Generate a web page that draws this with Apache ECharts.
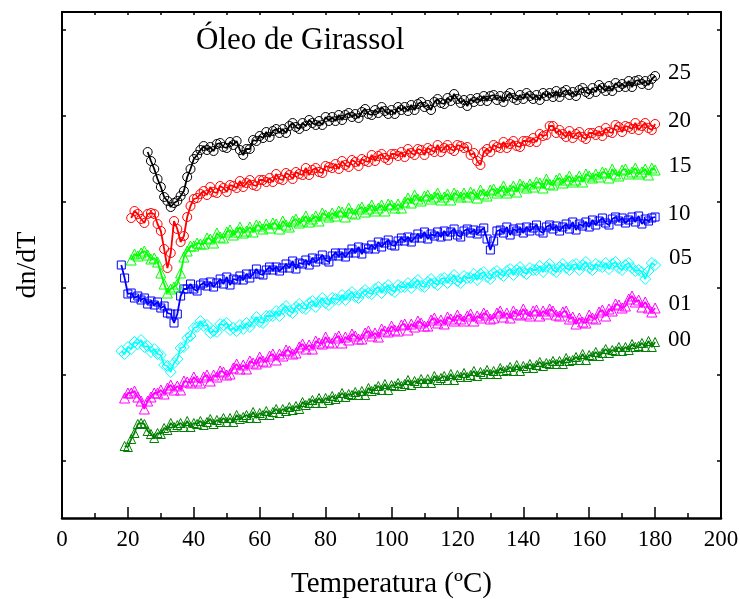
<!DOCTYPE html>
<html><head><meta charset="utf-8">
<script src="https://cdn.jsdelivr.net/npm/echarts@6/dist/echarts.min.js"></script>
<style>html,body{margin:0;padding:0;background:#fff}#c{width:740px;height:599px}</style>
</head><body><div id="c"></div>
<script>
// Temperature grid (ºC); each series ends at 180 and starts where its array begins
const temperature = [18,19,20,21,22,23,24,25,26,27,28,29,30,31,32,33,34,35,36,37,38,39,40,41,42,43,44,45,46,47,48,49,50,51,52,53,54,55,56,57,58,59,60,61,62,63,64,65,66,67,68,69,70,71,72,73,74,75,76,77,78,79,80,81,82,83,84,85,86,87,88,89,90,91,92,93,94,95,96,97,98,99,100,101,102,103,104,105,106,107,108,109,110,111,112,113,114,115,116,117,118,119,120,121,122,123,124,125,126,127,128,129,130,131,132,133,134,135,136,137,138,139,140,141,142,143,144,145,146,147,148,149,150,151,152,153,154,155,156,157,158,159,160,161,162,163,164,165,166,167,168,169,170,171,172,173,174,175,176,177,178,179,180];

// dn/dT (arbitrary units, curves offset vertically)
const s25 = [366,357,349,339,331,321,317,311,315,317,322,327,341,349,359,363,368,
372,368,371,367,374,375,371,370,376,373,377,368,363,369,369,378,377,382,380,386,
381,387,389,385,389,385,392,395,391,389,395,392,398,395,393,397,393,401,397,401,
397,403,398,403,405,401,404,400,406,409,404,403,408,405,411,407,404,408,404,411,
408,411,407,413,408,414,416,411,413,408,416,419,415,414,420,417,424,419,415,418,
412,419,416,420,417,422,417,422,423,418,422,416,422,425,420,418,423,419,425,422,
419,423,418,425,422,425,421,427,421,426,428,423,426,422,428,430,426,424,430,426,
433,430,427,432,427,435,431,434,431,437,431,437,438,434,437,433,439,442];

const s20 = [300,307,304,299,295,304,305,304,294,287,269,250,265,297,289,276,282,301,312,319,320,324,
327,323,331,326,325,332,330,326,333,332,330,337,331,335,338,333,332,338,338,336,
340,336,344,339,338,345,343,339,346,344,343,350,343,348,350,346,345,352,351,350,
354,349,357,353,351,358,356,352,359,357,356,363,357,362,364,360,358,364,364,362,
366,361,369,365,363,369,368,363,370,368,366,373,366,370,373,369,367,373,372,370,
371,363,365,357,353,366,369,366,373,371,370,376,370,374,377,372,371,377,377,376,
380,376,384,382,383,392,392,385,388,384,381,387,380,384,386,381,379,385,385,383,
387,382,390,386,385,393,391,386,392,391,389,395,388,392,395,390,388,394];

const s15 = [258,264,262,265,267,263,259,260,256,245,234,225,229,231,234,245,261,267,272,272,275,274,
274,280,279,275,285,281,280,286,288,283,286,291,285,287,291,286,293,292,289,294,
290,295,294,289,297,293,291,297,299,295,297,302,296,299,302,297,305,303,301,305,
302,307,306,301,310,305,304,309,311,306,309,313,307,310,313,307,314,313,310,314,
310,316,320,315,323,319,317,322,323,319,321,325,318,321,324,318,325,323,321,325,
321,326,324,320,328,324,322,328,329,325,327,332,325,328,332,326,334,332,330,334,
331,336,335,330,339,334,333,338,340,335,338,342,336,338,342,336,344,342,340,344,
341,346,345,340,349,344,342,348,349,344,346,350,344,346,349,343,350,348];

const s10 = [253,240,224,225,220,222,218,220,214,217,213,216,210,212,205,204,195,204,222,229,229,
234,229,227,233,235,232,236,231,235,239,234,241,233,239,238,242,238,244,240,244,
249,244,243,248,251,248,251,247,250,254,250,257,249,255,254,258,253,260,256,259,
263,258,256,262,265,262,265,261,265,269,265,271,264,270,269,273,269,276,271,275,
278,273,272,277,280,277,281,276,280,284,280,286,279,284,282,286,281,287,282,286,
289,283,281,287,289,285,288,284,287,290,279,268,277,287,288,285,291,283,289,287,
290,285,291,287,290,293,287,285,291,293,289,292,287,291,294,289,296,288,294,292,
296,291,298,293,297,300,295,293,299,301,297,300,295,298,301,296,302,294,299,297,300,301];

const s05 = [167,164,171,169,176,174,178,171,172,166,169,164,163,153,152,146,155,159,170,171,180,182,190,191,197,192,193,185,187,186,194,193,195,188,190,187,193,189,
195,191,196,201,196,195,202,202,202,207,202,209,212,207,205,211,214,210,209,215,
217,211,216,220,215,213,220,219,218,223,218,223,226,221,220,225,228,225,224,229,
231,225,230,233,228,226,233,231,231,235,230,235,238,232,231,236,239,235,233,239,
240,235,239,243,237,235,242,240,240,244,238,244,246,241,239,245,247,244,242,247,
249,243,248,251,246,244,250,248,248,252,246,251,254,248,246,251,254,250,248,253,
254,248,253,256,250,248,254,252,251,255,249,254,256,250,248,253,255,250,247,248,246,239,247,255,253];

const s01 = [120,125,125,127,121,117,109,117,121,125,125,128,
124,130,133,128,132,128,137,136,135,141,137,135,141,143,137,143,141,147,146,143,
144,150,154,149,153,149,157,155,154,161,157,156,162,164,158,164,162,168,167,164,
165,171,174,169,173,169,177,175,174,181,176,175,180,182,175,181,178,184,182,179,
179,185,187,182,185,181,189,187,186,192,188,187,193,194,188,194,191,197,195,192,
192,198,200,195,198,194,201,199,197,203,199,197,202,204,197,202,200,205,203,199,
200,205,207,201,205,200,207,204,203,209,204,202,207,208,202,207,204,209,207,203,
202,206,207,199,201,194,200,196,195,203,200,199,206,208,202,209,207,214,213,210,
212,219,222,216,218,211,216,210,206,210];

const s00 = [72,71,79,85,94,95,94,87,84,80,
85,84,90,88,95,91,93,95,91,97,91,95,94,97,93,96,99,94,98,96,
100,96,100,96,103,99,101,103,100,106,100,105,103,107,103,106,109,105,109,107,
111,108,112,109,116,113,115,118,115,120,115,120,118,122,119,121,125,121,124,123,
126,123,127,123,130,127,129,132,128,134,128,133,132,135,132,134,138,133,137,135,
139,135,139,135,142,138,140,142,138,144,138,143,141,145,141,143,147,142,146,144,
148,144,147,144,150,147,148,151,147,153,147,152,150,154,150,153,156,152,155,154,
157,154,157,154,160,157,158,161,158,164,158,163,162,166,162,165,169,165,168,167,
171,167,171,168,174,171,172,175,171,177,171,176];

const seriesNames = ['00','01','05','10','15','20','25'];
const seriesValues = [s00, s01, s05, s10, s15, s20, s25];
const yTickValues = [57,143,230,316,402,488];

// styles
const seriesColors = ['#008000','#ff00ff','#00ffff','#0000ff','#00ff00','#ff0000','#000000'];
const seriesSymbols = ['triangle','triangle','diamond','rect','triangle','circle','circle'];
const seriesSizes = [9,10,11,8,10,9,9];
const labelDy = [-2,-4,-7,-3,-4,-3,-3];

const FONT = 'Liberation Serif';

function build(arr, idx){
  const off = temperature.length - arr.length;
  return arr.map((v,j)=>{
    const item = {value:[temperature[off+j], v]};
    if (j === arr.length-1) {
      item.label = {show:true, position:'right', distance:8, offset:[0,labelDy[idx]],
        formatter: seriesNames[idx], color:'#000', fontFamily:FONT, fontSize:23};
    }
    return item;
  });
}

const chart = echarts.init(document.getElementById('c'), null, {renderer:'canvas'});
const series = seriesValues.map((arr,i)=>({
  type:'line', name:seriesNames[i], xAxisIndex:0, yAxisIndex:0,
  symbol:seriesSymbols[i], symbolSize:seriesSizes[i], showSymbol:true, showAllSymbol:true,
  lineStyle:{color:seriesColors[i], width:1.8},
  itemStyle:{color:'rgba(0,0,0,0)', borderColor:seriesColors[i], borderWidth:1, opacity:1},
  emphasis:{disabled:true}, silent:true, animation:false,
  data: build(arr,i)
}));

const axisLineStyle = {color:'#000', width:2};
chart.setOption({
  animation:false,
  backgroundColor:'#fff',
  title:{text:'Óleo de Girassol', left:196, top:25, padding:0,
    textStyle:{fontFamily:FONT, fontSize:31, fontWeight:'normal', color:'#000'}},
  grid:{left:62, right:19, top:12, bottom:81, containLabel:false, outerBoundsMode:'none'},
  xAxis:[{
    type:'value', min:0, max:200, interval:20, position:'bottom',
    axisLine:{show:true, onZero:false, lineStyle:{color:'#000', width:2.5}},
    axisTick:{show:true, inside:true, length:11, lineStyle:{color:'#000', width:1.5}},
    minorTick:{show:true, splitNumber:2, length:5, lineStyle:{color:'#000', width:1.5}},
    axisLabel:{show:true, margin:10, color:'#000', fontFamily:FONT, fontSize:23},
    splitLine:{show:false},
    name:'Temperatura (ºC)', nameLocation:'middle', nameGap:52,
    nameTextStyle:{fontFamily:FONT, fontSize:29, color:'#000'}
  },{
    type:'value', min:0, max:200, interval:10, position:'top',
    axisLine:{show:true, onZero:false, lineStyle:axisLineStyle},
    axisTick:{show:true, inside:true, length:3, lineStyle:{color:'#000', width:1.5}},
    axisLabel:{show:false}, splitLine:{show:false}
  }],
  yAxis:[{
    type:'value', min:0, max:506, position:'left',
    axisLine:{show:true, onZero:false, lineStyle:axisLineStyle},
    axisTick:{show:true, inside:true, length:4, customValues:yTickValues, lineStyle:{color:'#000', width:1.5}},
    axisLabel:{show:false}, splitLine:{show:false},
    name:'dn/dT', nameLocation:'middle', nameGap:20, nameRotate:90,
    nameTextStyle:{fontFamily:FONT, fontSize:28, color:'#000'}
  },{
    type:'value', min:0, max:506, position:'right',
    axisLine:{show:true, onZero:false, lineStyle:axisLineStyle},
    axisTick:{show:true, inside:true, length:4, customValues:yTickValues, lineStyle:{color:'#000', width:1.5}},
    axisLabel:{show:false}, splitLine:{show:false}
  }],
  series: series
});
</script>
</body></html>
